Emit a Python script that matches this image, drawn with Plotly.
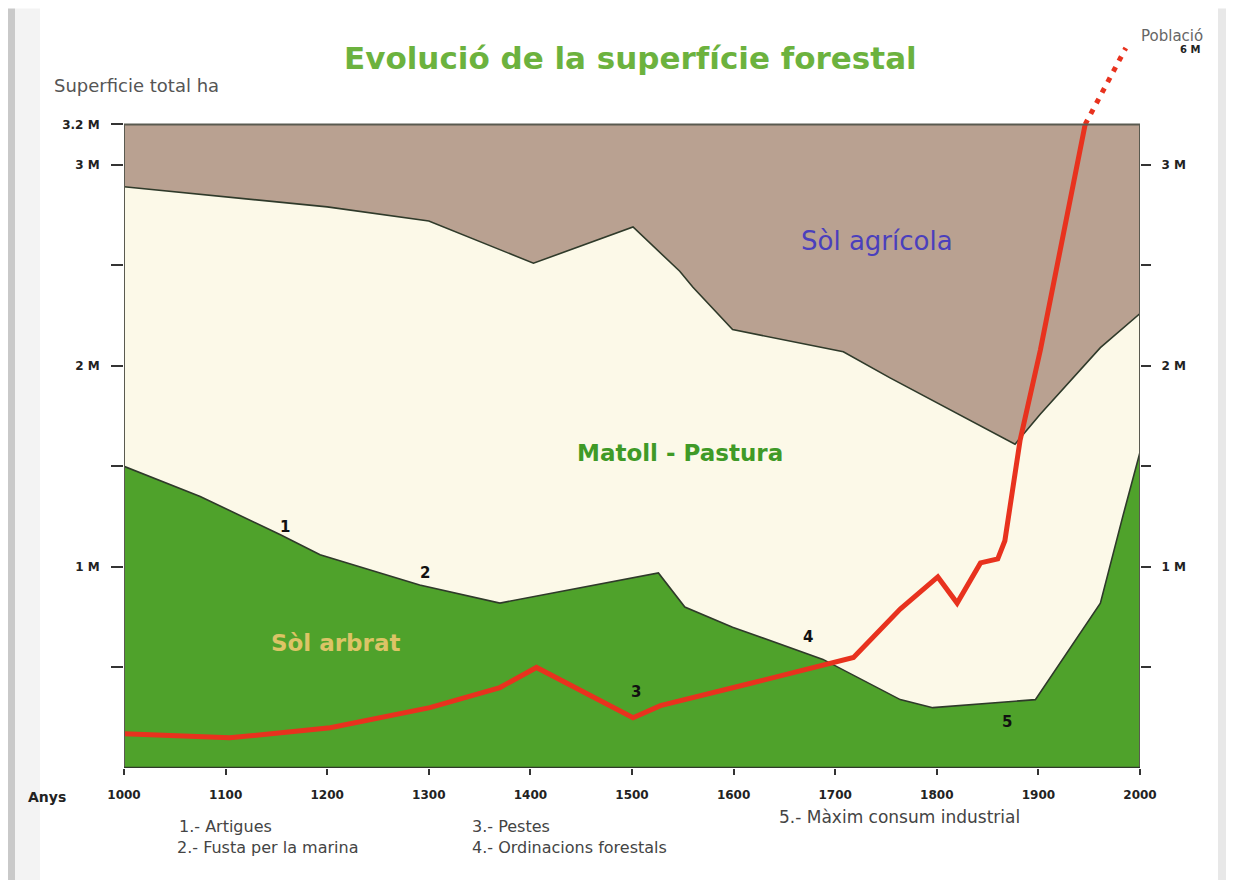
import plotly.graph_objects as go

# ---------------- data (values in millions) ----------------
years_agri = [1000, 1100, 1200, 1300, 1350, 1403, 1501, 1547, 1560, 1599, 1708, 1754, 1877, 1902, 1961, 2000]
agri_limit = [2.89, 2.84, 2.79, 2.72, 2.62, 2.51, 2.69, 2.47, 2.39, 2.18, 2.07, 1.94, 1.61, 1.76, 2.09, 2.26]

years_forest = [1000, 1075, 1154, 1193, 1291, 1370, 1526, 1552, 1599, 1688, 1764, 1796, 1897, 1961, 1983, 2000]
forest = [1.50, 1.35, 1.16, 1.06, 0.91, 0.82, 0.97, 0.80, 0.70, 0.54, 0.34, 0.30, 0.34, 0.82, 1.25, 1.57]

years_pop = [1000, 1104, 1203, 1301, 1370, 1406, 1501, 1528, 1616, 1692, 1718, 1764, 1801, 1820, 1843, 1860, 1867, 1882, 1902, 1946]
population = [0.17, 0.15, 0.20, 0.30, 0.40, 0.50, 0.25, 0.31, 0.42, 0.52, 0.55, 0.79, 0.95, 0.82, 1.02, 1.04, 1.13, 1.63, 2.08, 3.20]
years_pop_proj = [1946, 1986]
population_proj = [3.20, 3.58]

x_ticks = list(range(1000, 2001, 100))
y_ticks_left = [0.5, 1, 1.5, 2, 2.5, 3, 3.2]
y_text_left = ["", "1 M", "", "2 M", "", "3 M", "3.2 M"]
y_ticks_right = [0.5, 1, 1.5, 2, 2.5, 3]
y_text_right = ["", "1 M", "", "2 M", "", "3 M"]
total_surface = 3.2

region_labels = ["Sòl agrícola", "Matoll - Pastura", "Sòl arbrat"]
marker_numbers = ["1", "2", "3", "4", "5"]
marker_years = [1158, 1296, 1504, 1673, 1869]
marker_values = [1.20, 0.97, 0.38, 0.65, 0.23]
notes = ["1.- Artigues", "2.- Fusta per la marina", "3.- Pestes",
         "4.- Ordinacions forestals", "5.- Màxim consum industrial"]

# ---------------- colours ----------------
BROWN = "#b9a191"
CREAM = "#fcf9e8"
GREEN = "#4fa22b"
RED = "#e8321e"
EDGE = "#2f3a2a"
FONT = "DejaVu Sans"

OFF = 8  # page body margin
W, H = 1234 - OFF, 880 - OFF
L, R, T, B = 124 - OFF, 1140 - OFF, 43.5 - OFF, 768 - OFF
YMAX = 3.6


def px(xp, yp):
    """screen pixel -> paper coordinates"""
    return (xp - OFF - L) / (R - L), (B - (yp - OFF)) / (B - T)


fig = go.Figure()

fig.add_trace(go.Scatter(x=years_agri, y=agri_limit, mode="lines", fill="tozeroy",
                         fillcolor=CREAM, line=dict(color=EDGE, width=1.6),
                         hoverinfo="skip", showlegend=False))
fig.add_trace(go.Scatter(x=years_forest, y=forest, mode="lines", fill="tozeroy",
                         fillcolor=GREEN, line=dict(color=EDGE, width=1.6),
                         hoverinfo="skip", showlegend=False))
fig.add_trace(go.Scatter(x=years_pop, y=population, mode="lines", yaxis="y2",
                         line=dict(color=RED, width=5),
                         hoverinfo="skip", showlegend=False))
fig.add_trace(go.Scatter(x=years_pop_proj, y=population_proj, mode="lines", yaxis="y2",
                         line=dict(color=RED, width=5, dash="5px,7px"),
                         cliponaxis=False, hoverinfo="skip", showlegend=False))

shapes = []
shapes.append(dict(type="rect", xref="x", yref="y", x0=x_ticks[0], x1=x_ticks[-1],
                   y0=0, y1=total_surface, fillcolor=BROWN, line=dict(width=0), layer="below"))
shapes.append(dict(type="rect", xref="x", yref="y", x0=x_ticks[0], x1=x_ticks[-1],
                   y0=0, y1=total_surface, fillcolor="rgba(0,0,0,0)",
                   line=dict(color="#5a5a50", width=2), layer="above"))
shapes.append(dict(type="line", xref="x", yref="y", x0=x_ticks[0], x1=x_ticks[-1],
                   y0=0, y1=0, line=dict(color=EDGE, width=2.5), layer="above"))
shapes.append(dict(type="rect", xref="paper", yref="paper", x0=px(8, 0)[0], x1=px(15, 0)[0],
                   y0=px(0, 880)[1], y1=px(0, 8)[1], fillcolor="#c9c9c9",
                   line=dict(width=0), layer="below"))
shapes.append(dict(type="rect", xref="paper", yref="paper", x0=px(15, 0)[0], x1=px(40, 0)[0],
                   y0=px(0, 880)[1], y1=px(0, 8)[1], fillcolor="#f3f3f3",
                   line=dict(width=0), layer="below"))
shapes.append(dict(type="rect", xref="paper", yref="paper", x0=px(1218, 0)[0], x1=px(1234, 0)[0],
                   y0=px(0, 880)[1], y1=px(0, 8)[1], fillcolor="#e8e8e8",
                   line=dict(width=0), layer="below"))

ann = []


def add_px(text, xp, yp, size, color, bold=False, xanchor="center"):
    xa, ya = px(xp, yp)
    ann.append(dict(text=f"<b>{text}</b>" if bold else text, x=xa, y=ya,
                    xref="paper", yref="paper", xanchor=xanchor, yanchor="middle",
                    showarrow=False, font=dict(family=FONT, size=size, color=color)))


add_px("Evolució de la superfície forestal", 630, 58, 31, "#6cb23e", bold=True)
add_px("Superficie total ha", 52, 85, 18, "#555555", xanchor="left")
add_px("Població", 1172, 35, 15, "#666666")
add_px("6 M", 1190, 49, 10, "#222222", bold=True)
add_px("Anys", 47, 797, 14, "#222222", bold=True)
add_px(notes[0], 177, 827, 16, "#444444", xanchor="left")
add_px(notes[1], 175, 848, 16, "#444444", xanchor="left")
add_px(notes[2], 470, 827, 16, "#444444", xanchor="left")
add_px(notes[3], 470, 848, 16, "#444444", xanchor="left")
add_px(notes[4], 777, 817, 17, "#444444", xanchor="left")

ann.append(dict(text=region_labels[0], x=1741, y=2.62, xref="x", yref="y", showarrow=False,
                font=dict(family=FONT, size=26, color="#4a3fbd")))
ann.append(dict(text=f"<b>{region_labels[1]}</b>", x=1547, y=1.565, xref="x", yref="y", showarrow=False,
                font=dict(family=FONT, size=23, color="#3f9a27")))
ann.append(dict(text=f"<b>{region_labels[2]}</b>", x=1208, y=0.62, xref="x", yref="y", showarrow=False,
                font=dict(family=FONT, size=23, color="#dcc466")))
for t, xv, yv in zip(marker_numbers, marker_years, marker_values):
    ann.append(dict(text=f"<b>{t}</b>", x=xv, y=yv, xref="x", yref="y", showarrow=False,
                    font=dict(family=FONT, size=15, color="#111111")))

fig.update_layout(
    width=W, height=H,
    margin=dict(l=L, r=W - R, t=T, b=H - B, pad=0, autoexpand=False),
    paper_bgcolor="white", plot_bgcolor="white",
    showlegend=False,
    shapes=shapes, annotations=ann,
    xaxis=dict(range=[x_ticks[0], x_ticks[-1]], tickvals=x_ticks,
               ticktext=[f"<b>{v}</b>" for v in x_ticks], automargin=False,
               ticks="outside", ticklen=6, tickwidth=2, tickcolor="#333333",
               showgrid=False, zeroline=False, showline=False,
               tickfont=dict(family=FONT, size=12, color="#222222"),
               ticklabelstandoff=10),
    yaxis=dict(range=[0, YMAX], tickvals=y_ticks_left, automargin=False,
               ticktext=[f"<b>{t}</b>" for t in y_text_left],
               ticks="outside", ticklen=12, tickwidth=2, tickcolor="#333333",
               showgrid=False, zeroline=False, showline=False,
               tickfont=dict(family=FONT, size=12, color="#222222"),
               ticklabelstandoff=9),
    yaxis2=dict(range=[0, YMAX], overlaying="y", side="right", tickvals=y_ticks_right,
                ticktext=[f"<b>{t}</b>" for t in y_text_right], automargin=False,
                ticks="outside", ticklen=10, tickwidth=2, tickcolor="#333333",
                showgrid=False, zeroline=False, showline=False,
                tickfont=dict(family=FONT, size=12, color="#222222"),
                ticklabelstandoff=8),
)

fig.write_html("out.html")
